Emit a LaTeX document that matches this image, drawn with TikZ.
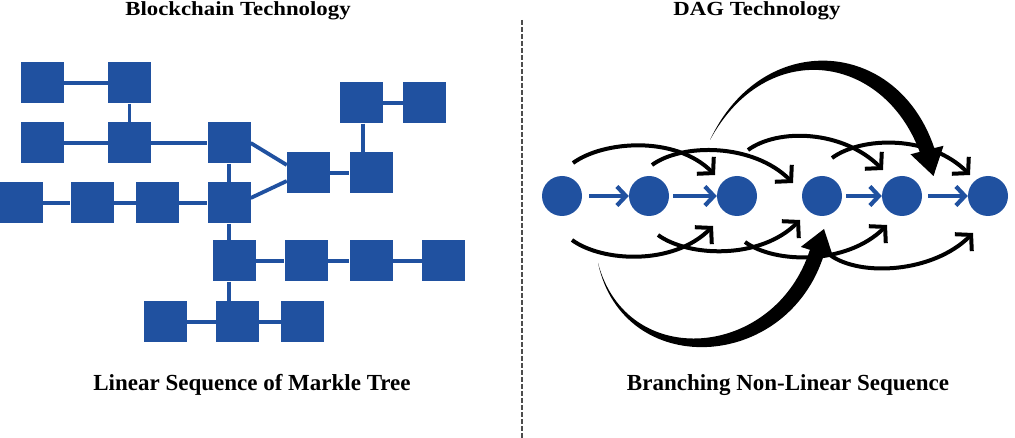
\documentclass[tikz,border=0pt]{standalone}
\usepackage{fontspec}
\setmainfont{Liberation Serif}
\newfontfamily\headfont[FakeStretch=1.14]{Liberation Serif}
\usepackage{xcolor}
\usepackage{tikz}
\usetikzlibrary{arrows.meta}
\definecolor{chainblue}{RGB}{32,81,160}

\begin{document}
\begin{tikzpicture}[x=1pt,y=-1pt,
  block/.style={fill=chainblue, minimum width=43pt, minimum height=41pt, inner sep=0pt},
  link/.style={chainblue, line width=3.8pt},
  tx/.style={circle, fill=chainblue, minimum size=40pt, inner sep=0pt},
  txarrow/.style={chainblue, line width=4.2pt, -{Straight Barb[length=9pt,width=19pt]}},
  dagarc/.style={line width=4pt, -{Straight Barb[length=11pt,width=24pt]}},
  heading/.style={font=\headfont\bfseries\fontsize{20}{24}\selectfont, anchor=base},
  caption/.style={font=\bfseries\fontsize{23}{26}\selectfont, anchor=base}]
\useasboundingbox (0,0) rectangle (1015,438);

\node[heading] (chainhead) at (238,16) {Blockchain Technology};
\node[heading] (daghead) at (757,16) {DAG Technology};
\node[caption] (chaincap) at (252,390) {Linear Sequence of Markle Tree};
\node[caption] (dagcap) at (788,390) {Branching Non-Linear Sequence};

\draw[black!70, line width=2pt, dash pattern=on 5pt off 2pt] (522,20) -- (522,438);

\node[block] (a1) at (42,83) {};
\node[block] (a2) at (129.5,83) {};
\node[block] (b1) at (42,143) {};
\node[block] (b2) at (129.5,143) {};
\node[block] (b3) at (229,143) {};
\node[block] (t1) at (361.5,103) {};
\node[block] (t2) at (424.5,103) {};
\node[block] (m1) at (308.5,173) {};
\node[block] (m2) at (371,173) {};
\node[block] (d1) at (21,203) {};
\node[block] (d2) at (92,203) {};
\node[block] (d3) at (157.5,203) {};
\node[block] (d4) at (229,203) {};
\node[block] (e1) at (234,261) {};
\node[block] (e2) at (306,261) {};
\node[block] (e3) at (371,261) {};
\node[block] (e4) at (443.5,261) {};
\node[block] (f1) at (165,322) {};
\node[block] (f2) at (237.5,322) {};
\node[block] (f3) at (302.5,322) {};

\draw[link] (a1) -- (a2);
\draw[link] (a2) -- (b2);
\draw[link] (b1) -- (b2) -- (b3);
\draw[link] (b3) -- (d4);
\draw[link] (d1) -- (d2) -- (d3) -- (d4);
\draw[link] (b3.east) -- ([yshift=8pt]m1.west);
\draw[link] ([yshift=5pt]d4.east) -- ([yshift=-8pt]m1.west);
\draw[link] (m1) -- (m2);
\draw[link] ([xshift=1.5pt]t1.south) -- ([xshift=1.5pt]t1.south |- m2.north);
\draw[link] (t1) -- (t2);
\draw[link] (d4.south) -- (d4.south |- e1.north);
\draw[link] (e1) -- (e2) -- (e3) -- (e4);
\draw[link] (e1.south -| d4) -- (f2.north -| d4);
\draw[link] (f1) -- (f2) -- (f3);

\node[tx] (c1) at (562,196) {};
\node[tx] (c2) at (649,196) {};
\node[tx] (c3) at (737,196) {};
\node[tx] (c4) at (822,196) {};
\node[tx] (c5) at (902,196) {};
\node[tx] (c6) at (988,196) {};

\draw[txarrow] ([xshift=7pt]c1.east) -- (c2.west);
\draw[txarrow] ([xshift=4pt]c2.east) -- (c3.west);
\draw[txarrow] ([xshift=4pt]c4.east) -- (c5.west);
\draw[txarrow] ([xshift=6pt]c5.east) -- (c6.west);

\draw[dagarc] ([shift={(11,-33)}]c1.center) .. controls +(30,-22) and +(-40,-40) .. ([shift={(-22,-21)}]c3.center);
\draw[dagarc] ([shift={(3,-31)}]c2.center) .. controls +(30,-22) and +(-40,-40) .. ([shift={(-29,-13)}]c4.center);
\draw[dagarc] ([shift={(11,-46)}]c3.center) .. controls +(30,-22) and +(-40,-40) .. ([shift={(-19,-26)}]c5.center);
\draw[dagarc] ([shift={(10,-38)}]c4.center) .. controls +(30,-22) and +(-40,-40) .. ([shift={(-18,-21)}]c6.center);
\draw[dagarc] ([shift={(10,44)}]c1.center) .. controls +(30,22) and +(-40,40) .. ([shift={(-24,30)}]c3.center);
\draw[dagarc] ([shift={(9,39)}]c2.center) .. controls +(30,22) and +(-40,40) .. ([shift={(-22,24)}]c4.center);
\draw[dagarc] ([shift={(8,46)}]c3.center) .. controls +(30,22) and +(-40,40) .. ([shift={(-15,29)}]c5.center);
\draw[dagarc] ([shift={(8,59)}]c4.center) .. controls +(30,22) and +(-40,40) .. ([shift={(-15,37)}]c6.center);

\coordinate (upstart) at (710,140);
\coordinate (lowstart) at (598,263);
\fill (upstart) .. controls (762,29) and (897,37) .. (934.3,148.1) -- (943.5,145.8) -- (933.5,176)
  -- (910.5,154.3) -- (919.7,151.9) .. controls (883,53) and (766,37) .. (upstart) -- cycle;
\fill (lowstart) .. controls (623,380) and (787,373) .. (824.1,254.3) -- (833.2,257.1) -- (824,229)
  -- (800.8,246.9) -- (809.9,249.8) .. controls (775,359) and (627,372) .. (lowstart) -- cycle;
\end{tikzpicture}
\end{document}
